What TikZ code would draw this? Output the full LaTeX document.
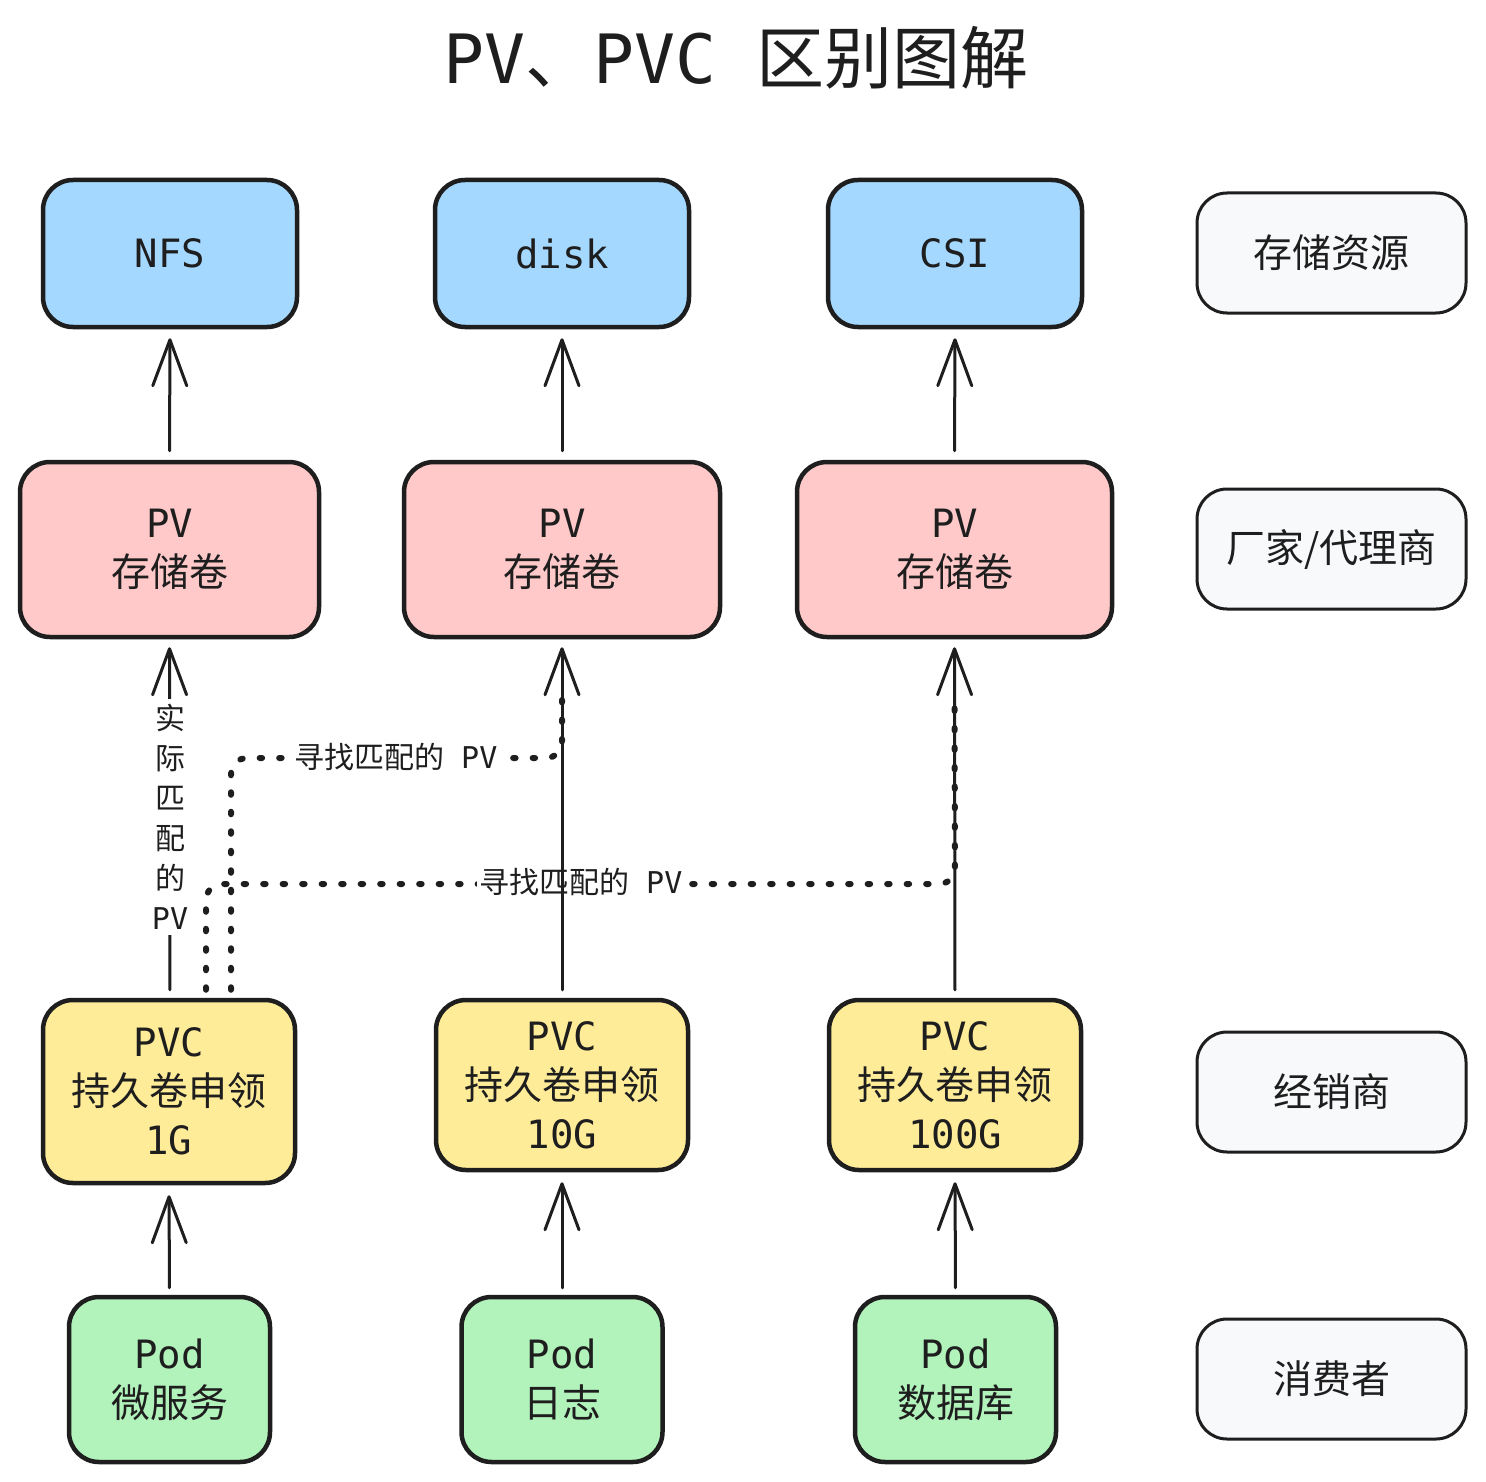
\documentclass[tikz,border=0pt]{standalone}
\usepackage{fontspec}
\setmainfont{Noto Sans CJK SC}
\newfontfamily\lat[Scale=1.0]{DejaVu Sans Mono}
\usetikzlibrary{arrows.meta}
\definecolor{ink}{HTML}{1E1E1E}
\definecolor{cblue}{HTML}{A5D8FF}
\definecolor{cpink}{HTML}{FFC9C9}
\definecolor{cyel}{HTML}{FFEC99}
\definecolor{cgreen}{HTML}{B2F2BB}
\definecolor{cgray}{HTML}{F8F9FA}
\begin{document}
\begin{tikzpicture}[x=1pt,y=-1pt,
  box/.style={draw=ink, line width=4.5pt, rounded corners=30pt, align=center,
    font=\fontsize{39}{49}\selectfont, inner sep=0pt, text=ink},
  boxblue/.style={box, fill=cblue, minimum width=254pt, minimum height=147pt},
  boxpink/.style={box, fill=cpink, minimum height=175pt},
  boxyel/.style={box, fill=cyel, minimum width=252pt},
  boxgreen/.style={box, fill=cgreen, minimum width=201pt, minimum height=165pt},
  boxgray/.style={box, fill=cgray, line width=3pt, minimum width=269pt, minimum height=120pt},
  arr/.style={draw=ink, line width=3pt, line cap=round,
    -{Straight Barb[length=46pt,width=34pt,round]}},
  dotline/.style={draw=ink, line width=6pt, line cap=round, dash pattern=on 2.5pt off 17pt},
  lbl/.style={font=\fontsize{30}{40}\selectfont, text=ink, inner sep=3pt, align=center},
]
\useasboundingbox[fill=white] (0,0) rectangle (1486,1482);

% title
\node[text=ink, font=\fontsize{68}{80}\selectfont] (title) at (736,58)
  {{\lat PV}、{\lat PVC}\hspace{0.6em}区别图解};

% storage resources
\node[boxblue] (nfs)  at (170,253.5) {\lat NFS};
\node[boxblue] (disk) at (562,253.5) {\lat disk};
\node[boxblue] (csi)  at (955,253.5) {\lat CSI};

% PV
\node[boxpink, minimum width=299pt] (pv1) at (169.5,549.5) {{\lat PV}\\存储卷};
\node[boxpink, minimum width=316pt] (pv2) at (562,549.5) {{\lat PV}\\存储卷};
\node[boxpink, minimum width=315pt] (pv3) at (954.5,549.5) {{\lat PV}\\存储卷};

% PVC
\node[boxyel, minimum height=183pt] (pvc1) at (169,1091.5) {{\lat PVC}\\持久卷申领\\{\lat 1G}};
\node[boxyel, minimum height=170pt] (pvc2) at (562,1085) {{\lat PVC}\\持久卷申领\\{\lat 10G}};
\node[boxyel, minimum height=170pt] (pvc3) at (955,1085) {{\lat PVC}\\持久卷申领\\{\lat 100G}};

% Pods
\node[boxgreen] (pod1) at (169.5,1379.5) {{\lat Pod}\\微服务};
\node[boxgreen] (pod2) at (562,1379.5) {{\lat Pod}\\日志};
\node[boxgreen] (pod3) at (955.5,1379.5) {{\lat Pod}\\数据库};

% legend
\node[boxgray] (g1) at (1331.5,253) {存储资源};
\node[boxgray] (g2) at (1331.5,549) {厂家/代理商};
\node[boxgray] (g3) at (1331.5,1092) {经销商};
\node[boxgray] (g4) at (1331.5,1379) {消费者};

% arrows PV -> storage
\draw[arr, shorten <=9pt, shorten >=9pt] (pv1.north) -- (nfs.south);
\draw[arr, shorten <=9pt, shorten >=9pt] (pv2.north) -- (disk.south);
\draw[arr, shorten <=9pt, shorten >=9pt] (pv3.north) -- (csi.south);

% Pod -> PVC
\draw[arr, shorten <=7pt, shorten >=10pt] (pod1.north) -- (pvc1.south);
\draw[arr, shorten <=7pt, shorten >=10pt] (pod2.north) -- (pvc2.south);
\draw[arr, shorten <=7pt, shorten >=10pt] (pod3.north) -- (pvc3.south);

% PVC1 -> PV1 with vertical label
\draw[arr, shorten <=8pt, shorten >=8pt] ([xshift=1pt]pvc1.north) -- (pv1.south);
\node[lbl, fill=white, inner sep=5pt] (vlab) at (170,817) {实\\际\\匹\\配\\的\\{\lat PV}};

% dotted search paths
\draw[dotline, rounded corners=16pt] ([xshift=62pt,yshift=8pt]pvc1.north) |- (562,758) -- ([yshift=-60pt]pv2.south);
\draw[dotline, rounded corners=16pt] ([xshift=37pt,yshift=8pt]pvc1.north) |- (955,884) -- ([yshift=-60pt]pv3.south);
\node[lbl, fill=white] (l1) at (396,757) {寻找匹配的\hspace{0.55em}{\lat PV}};
\node[lbl, fill=white] (l2) at (581,882) {寻找匹配的\hspace{0.55em}{\lat PV}};

% PVC2/3 -> PV2/3
\draw[arr, shorten <=8pt, shorten >=8pt] (pvc2.north) -- (pv2.south);
\draw[arr, shorten <=8pt, shorten >=8pt] (pvc3.north) -- (pv3.south);
\end{tikzpicture}
\end{document}
